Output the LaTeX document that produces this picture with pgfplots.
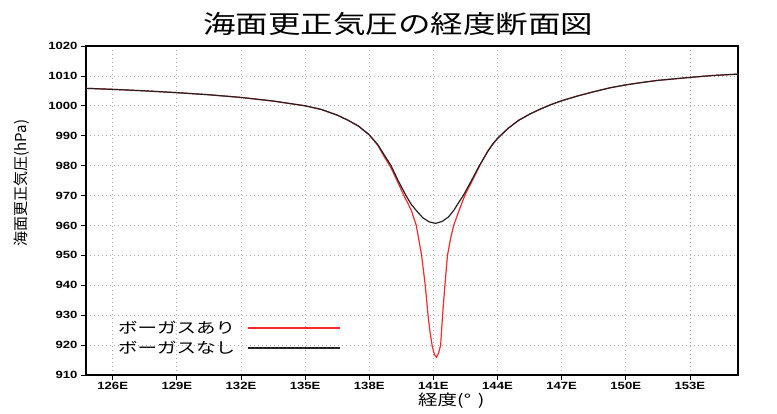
\documentclass[border=0pt]{standalone}
\usepackage{fontspec}
\usepackage{pgfplots}
\pgfplotsset{compat=1.18}
\newfontfamily\jp{Noto Sans CJK JP}[FakeStretch=1.3]
\newfontfamily\jpn{Noto Sans CJK JP}
\newfontfamily\tickf{Liberation Sans}[FakeStretch=1.25]
\definecolor{redline}{RGB}{250,40,45}
\definecolor{blackline}{RGB}{35,35,35}
\begin{document}
\begin{tikzpicture}
\path[use as bounding box] (0pt,0pt) rectangle (777pt,414pt);
\begin{axis}[
  at={(86pt,39pt)}, anchor=south west,
  scale only axis, width=652pt, height=329pt,
  xmin=124.75, xmax=155.25, ymin=910, ymax=1020,
  xtick={126,129,...,153},
  xticklabels={126E,129E,132E,135E,138E,141E,144E,147E,150E,153E},
  ytick={910,920,...,1020},
  /pgf/number format/assume math mode=true,
  /pgf/number format/1000 sep={},
  ticklabel style={font=\tickf\bfseries\fontsize{10.5}{10.5}\selectfont, text=black},
  xticklabel style={yshift=1pt},
  grid=major,
  major grid style={gray!65, line width=0.8pt, dash pattern=on 1pt off 3pt},
  axis line style={black, line width=1.2pt},
  tick pos=left, tick align=outside, major tick length=5pt,
  tick style={black, line width=0.8pt},
  legend plot pos=right,
  legend cell align=left,
  legend image code/.code={\draw[#1, line width=1.5pt] (0pt,0pt) -- (92pt,0pt);},
  legend style={at={(0.046,0.170)}, anchor=north west, draw=none, fill=none,
    inner sep=0pt, row sep=2pt, column sep=10pt,
    font=\jp\fontsize{15}{15}\selectfont},
]
\addplot[color=redline, line width=1.2pt] coordinates {
(124.75,1005.85) (126,1005.5) (127.5,1005.0) (129,1004.4) (130.5,1003.7)
(132,1002.8) (133.5,1001.6) (135,1000.0) (135.75,998.8) (136.5,996.9)
(137,995.2) (137.5,993.2) (138,990.3) (138.4,986.8) (138.7,983.0)
(139.0,979.5) (139.3,975.0) (139.62,970.0) (139.8,967.5) (139.97,965.0)
(140.2,960.0) (140.45,950.0) (140.62,940.0) (140.75,930.0) (140.85,924.0)
(140.95,919.5) (141.05,916.8) (141.15,915.9) (141.25,917.5) (141.34,920.0)
(141.43,930.0) (141.54,940.0) (141.66,950.0) (141.8,955.5) (141.95,960.0)
(142.2,965.0) (142.47,970.0) (142.82,975.0) (143.17,980.0) (143.55,985.0)
(143.8,987.3) (144,989.1) (144.5,992.5) (145,995.2) (145.5,997.2)
(146,998.9) (146.5,1000.4) (147,1001.7) (147.75,1003.3) (148.5,1004.7)
(149.25,1006.0) (150,1007.0) (150.75,1007.8) (151.5,1008.5) (152.25,1009.0)
(153,1009.5) (154,1010.1) (155.25,1010.6)
};
\addlegendentry{ボーガスあり}
\addplot[color=blackline, line width=1.2pt] coordinates {
(124.75,1005.85) (126,1005.5) (127.5,1005.0) (129,1004.4) (130.5,1003.7)
(132,1002.8) (133.5,1001.6) (135,1000.0) (135.75,998.8) (136.5,996.9)
(137,995.2) (137.5,993.2) (138,990.3) (138.4,987.0) (138.7,983.6)
(139.02,980.0) (139.35,975.0) (139.72,970.0) (139.95,967.2) (140.2,965.0)
(140.5,962.6) (140.8,961.2) (141.1,960.7) (141.4,961.3) (141.7,962.8)
(141.95,965.0) (142.15,967.3) (142.4,970.0) (142.78,975.0) (143.15,980.0)
(143.5,984.2) (143.75,987.0) (144,989.1) (144.5,992.5) (145,995.2)
(145.5,997.2) (146,998.9) (146.5,1000.4) (147,1001.7) (147.75,1003.3)
(148.5,1004.7) (149.25,1006.0) (150,1007.0) (150.75,1007.8) (151.5,1008.5)
(152.25,1009.0) (153,1009.5) (154,1010.1) (155.25,1010.6)
};
\addlegendentry{ボーガスなし}
\end{axis}
\node[anchor=base, inner sep=0pt] at (398pt,380pt) {\jp\fontsize{25}{25}\selectfont 海面更正気圧の経度断面図};
\node[anchor=base west, inner sep=0pt] at (418pt,8pt) {\jp\fontsize{15}{15}\selectfont 経度(°\hspace{7pt})};
\node[rotate=90, inner sep=0pt] at (22pt,231pt) {\jpn\fontsize{15}{15}\selectfont 海面更正気圧(hPa)};
\end{tikzpicture}
\end{document}
